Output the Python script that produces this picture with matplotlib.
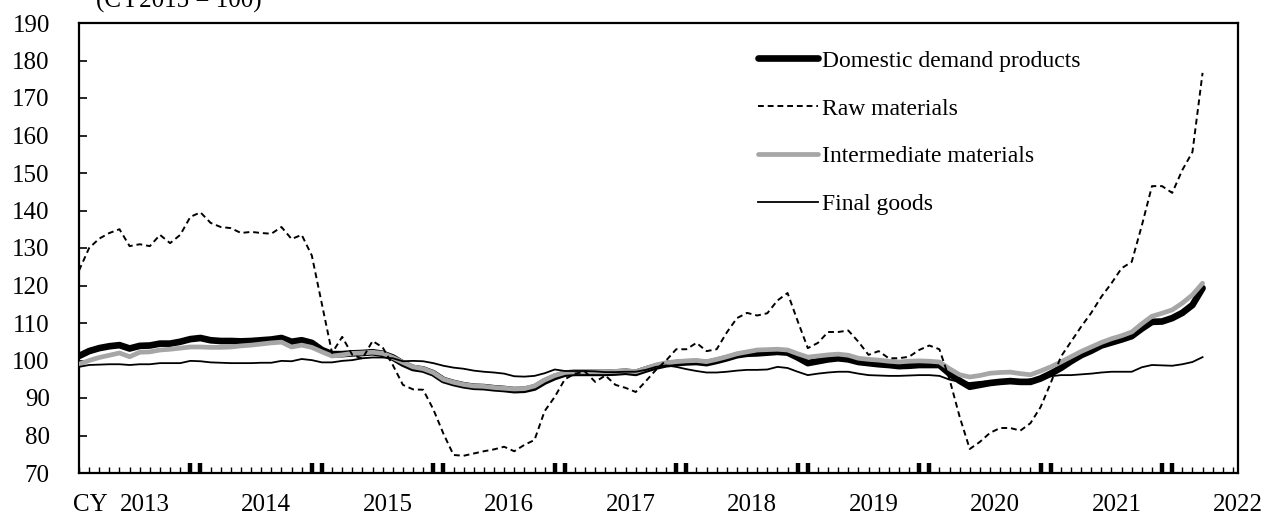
import matplotlib
matplotlib.use("Agg")
import matplotlib.pyplot as plt
import numpy as np

plt.rcParams['font.family'] = ['Liberation Serif', 'DejaVu Serif']

# Monthly data, Jan 2013 (index 0) .. Apr 2022 (index 111)
domestic_demand = [
    101.2, 102.5, 103.3, 103.8, 104.1, 103.2, 103.9, 104.0, 104.5, 104.5, 105.0, 105.7,
    106.0, 105.4, 105.2, 105.2, 105.1, 105.2, 105.4, 105.6, 106.0, 105.0, 105.4, 104.7,
    102.8, 101.7, 101.7, 101.9, 102.0, 102.2, 101.8, 100.8, 99.2, 98.0, 97.6, 96.6,
    94.8, 94.0, 93.4, 93.0, 92.9, 92.6, 92.4, 92.1, 92.2, 92.8, 94.4, 95.6,
    96.5, 96.7, 96.7, 96.7, 96.7, 96.8, 97.0, 96.7, 97.6, 98.4, 99.0, 99.3,
    99.5, 99.6, 99.3, 99.9, 100.6, 101.4, 101.8, 101.9, 102.1, 102.3, 102.1, 100.8,
    99.3, 99.8, 100.3, 100.6, 100.3, 99.6, 99.3, 99.0, 98.8, 98.5, 98.6, 98.8,
    98.8, 98.8, 96.5, 94.6, 93.0, 93.5, 94.0, 94.3, 94.5, 94.3, 94.3, 95.2,
    96.5, 98.0, 99.8, 101.4, 102.6, 104.0, 104.8, 105.6, 106.5, 108.5, 110.3, 110.4,
    111.3, 112.7, 114.8, 119.3,
]
raw_materials = [
    124.0, 130.0, 132.5, 134.0, 135.0, 130.5, 131.0, 130.5, 133.5, 131.3, 133.5, 138.3,
    139.5, 136.7, 135.6, 135.3, 134.0, 134.3, 134.0, 133.8, 135.6, 132.4, 133.5, 128.0,
    115.0, 102.0, 106.3, 101.5, 100.5, 105.2, 103.5, 98.8, 93.5, 92.3, 92.2, 87.0,
    80.5, 74.8, 74.6, 75.2, 75.8, 76.3, 77.0, 75.8, 77.5, 78.8, 86.5, 90.3,
    95.0, 96.5, 97.0, 94.3, 96.0, 93.5, 92.7, 91.6, 94.5, 97.5, 100.0, 103.0,
    103.0, 104.7, 102.5, 103.0, 107.5, 111.3, 112.7, 112.0, 112.6, 116.0, 118.0, 110.5,
    103.3, 104.7, 107.6, 107.6, 108.0, 105.0, 101.5, 102.5, 100.6, 100.6, 101.0, 102.8,
    104.0, 103.0, 95.0, 85.0, 76.4, 78.3, 80.7, 82.0, 82.0, 81.3, 83.3, 87.6,
    94.0, 101.0, 105.0, 109.0, 112.7, 117.0, 120.6, 124.6, 126.3, 136.0, 146.5, 146.5,
    144.7, 150.8, 155.6, 176.7,
]
intermediate_materials = [
    99.0, 100.0, 100.8, 101.4, 102.0, 101.0, 102.2, 102.3, 102.8, 103.0, 103.3, 103.6,
    103.6, 103.5, 103.5, 103.6, 103.9, 104.1, 104.4, 104.7, 104.9, 103.6, 104.1, 103.5,
    102.3, 101.2, 101.5, 101.9, 102.0, 102.2, 101.9, 100.8, 99.5, 98.3, 97.8, 96.8,
    95.0, 94.2, 93.6, 93.2, 93.1, 92.8, 92.6, 92.4, 92.5, 93.2, 94.8, 96.0,
    96.8, 97.0, 97.0, 97.0, 97.0, 97.1, 97.3, 97.0, 97.9, 98.8, 99.4, 99.7,
    99.9, 100.0, 99.7, 100.3, 101.0, 101.8, 102.3, 102.8, 102.9, 103.0, 102.8, 101.8,
    100.9, 101.2, 101.5, 101.7, 101.4, 100.6, 100.3, 100.1, 99.8, 99.6, 99.8, 99.9,
    99.8, 99.6, 97.8, 96.2, 95.6, 96.0, 96.6, 96.8, 96.9, 96.5, 96.2, 97.2,
    98.3, 99.6, 101.0, 102.4, 103.6, 104.8, 105.8, 106.6, 107.6, 109.8, 111.8, 112.6,
    113.5, 115.3, 117.5, 120.6,
]
final_goods = [
    98.3, 98.8, 98.9, 99.0, 99.0, 98.8, 99.0, 99.0, 99.3, 99.3, 99.3, 99.9,
    99.8, 99.5, 99.4, 99.3, 99.3, 99.3, 99.4, 99.4, 99.9, 99.8, 100.4, 100.1,
    99.5, 99.5, 99.9, 100.1, 100.6, 100.8, 100.8, 100.6, 99.8, 99.9, 99.8, 99.3,
    98.6, 98.1, 97.8, 97.3, 97.0, 96.8, 96.5, 95.8, 95.7, 95.9, 96.6, 97.6,
    97.2, 97.2, 97.2, 97.1, 96.9, 96.9, 97.0, 97.0, 97.5, 98.3, 98.7, 98.3,
    97.7, 97.2, 96.8, 96.8, 97.0, 97.3, 97.5, 97.5, 97.6, 98.3, 98.0, 97.0,
    96.1, 96.5, 96.8, 97.0, 97.0, 96.5, 96.1, 96.0, 95.9, 95.9, 96.0, 96.1,
    96.1, 95.9, 94.9, 94.3, 94.0, 94.3, 94.5, 94.4, 94.3, 94.5, 95.0, 95.3,
    95.8, 96.1, 96.1, 96.3, 96.5, 96.8, 97.0, 97.0, 97.0, 98.2, 98.8, 98.7,
    98.6, 99.0, 99.6, 100.9,
]
year_labels = ['2013', '2014', '2015', '2016', '2017', '2018', '2019', '2020', '2021', '2022']
y_ticks = list(range(70, 191, 10))

FS = 18
LFS = 17
fig = plt.figure(figsize=(12.69, 5.15), dpi=100)
ax = fig.add_axes([79/1269, 1 - 473/515, (1238 - 79)/1269, 450/515])

months = np.arange(len(domestic_demand))
ax.plot(months, domestic_demand, color='black', lw=4.8, solid_capstyle='round',
        solid_joinstyle='round', label='Domestic demand products', zorder=2)
ax.plot(months, intermediate_materials, color='#a6a6a6', lw=3.4, solid_capstyle='round',
        solid_joinstyle='round', label='Intermediate materials', zorder=3)
ax.plot(months, final_goods, color='black', lw=1.3, label='Final goods', zorder=4)
ax.plot(months, raw_materials, color='black', lw=1.4, linestyle=(0, (3, 2)),
        label='Raw materials', zorder=5)

n_months = 114
ax.set_xlim(0, n_months)
ax.set_ylim(70, 190)

# y axis
ax.set_yticks(y_ticks)
ax.tick_params(axis='y', direction='in', length=6, width=1.2, labelsize=FS, pad=21)

# x axis: year labels at mid-year, monthly minor ticks
ax.set_xticks([6.5 + 12 * i for i in range(len(year_labels))])
ax.set_xticklabels(year_labels)
ax.set_xticks(np.arange(0, n_months + 1), minor=True)
ax.tick_params(axis='x', which='major', length=0, labelsize=FS, pad=15)
ax.tick_params(axis='x', which='minor', direction='in', length=4.5, width=1.0)

sec = ax.secondary_xaxis('bottom')
thick = []
for i in range(len(year_labels) - 1):
    thick += [11 + 12 * i, 12 + 12 * i]
sec.set_xticks(thick)
sec.set_xticklabels([])
sec.tick_params(axis='x', direction='in', length=7.5, width=3.2)
sec.spines['bottom'].set_visible(False)

for s in ax.spines.values():
    s.set_linewidth(1.6)

fig.text(90/1269, 1 - 511/515, 'CY', fontsize=FS, ha='center', va='baseline')
fig.text(179/1269, 1 - 8/515, '(CY2015 = 100)', fontsize=FS, ha='center', va='baseline')

h, l = ax.get_legend_handles_labels()
order = [0, 3, 1, 2]
leg = ax.legend([h[i] for i in order], [l[i] for i in order],
                loc='upper left', bbox_to_anchor=(758/1269, 1 - 50/515),
                bbox_transform=fig.transFigure, frameon=False, fontsize=LFS,
                handlelength=2.55, handletextpad=0.17, labelspacing=1.12,
                borderpad=0, borderaxespad=0)

fig.savefig('out.png', dpi=100)
